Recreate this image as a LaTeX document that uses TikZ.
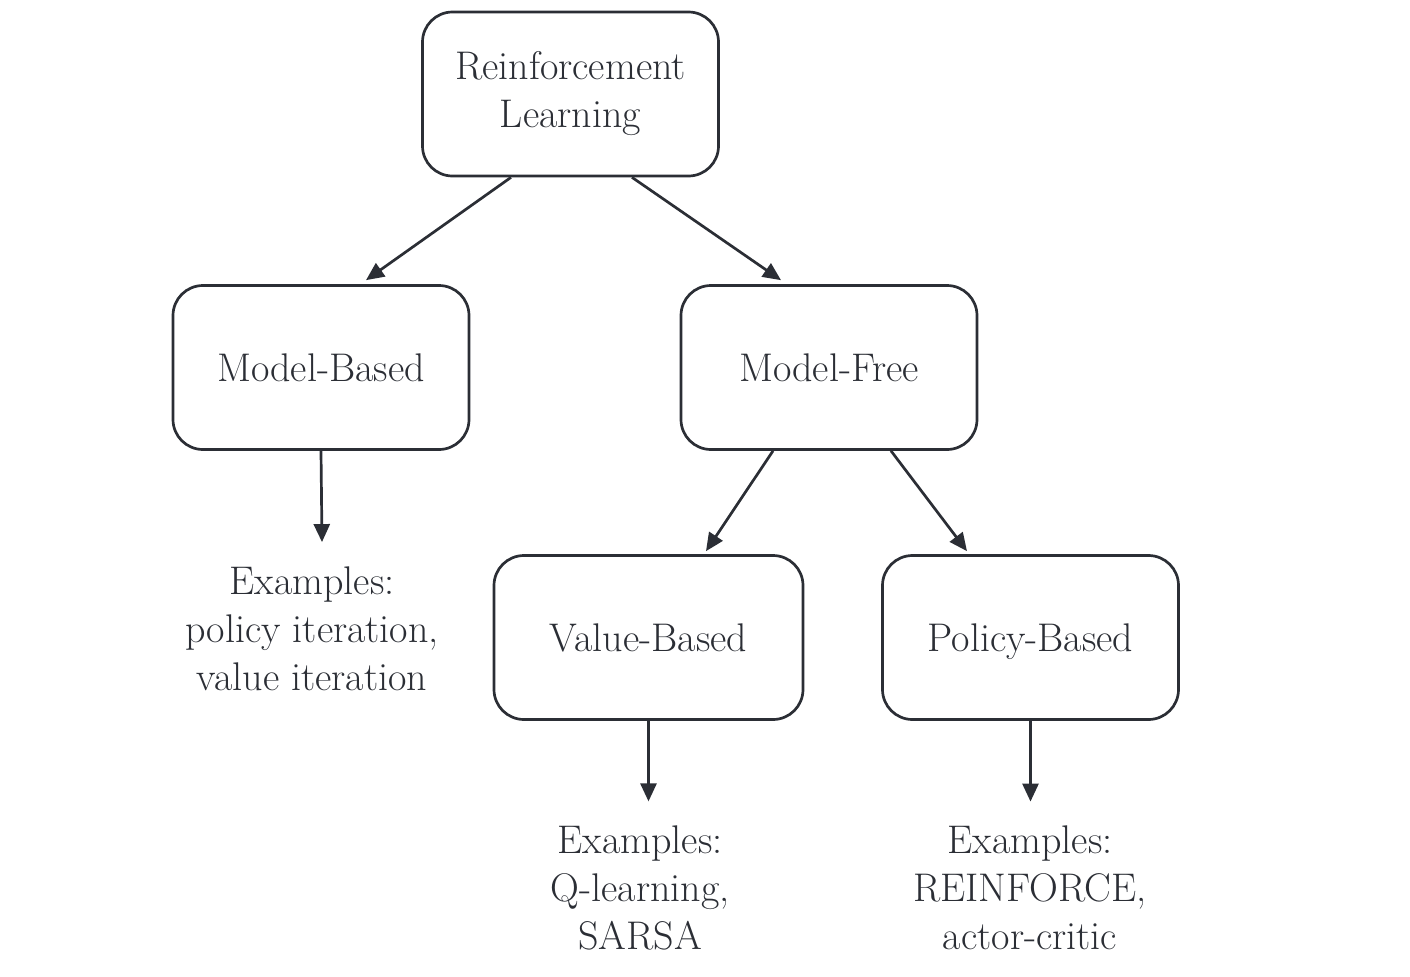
\documentclass[tikz,border=0pt]{standalone}
\usetikzlibrary{arrows.meta,calc}
\definecolor{ink}{HTML}{2B2E35}
\begin{document}
\begin{tikzpicture}[x=0.5pt,y=-0.5pt,
  box/.style={draw=ink,line width=1.35pt,rounded corners=15pt,minimum width=148pt,minimum height=82pt,inner sep=0pt,align=center,text=ink,font=\fontsize{20}{24}\selectfont},
  onebox/.style={box,text height=18pt,text depth=4.5pt},
  extext/.style={inner sep=0pt,align=center,text=ink,font=\fontsize{20}{24}\selectfont},
  arr/.style={draw=ink,line width=1.35pt,-{Triangle[length=9pt,width=8pt]}}]
\useasboundingbox (0,0) rectangle (1410,976);
\node[box] (RL) at (570.5,94) {Reinforcement\\Learning};
\node[onebox] (MB) at (321,367.5) {Model-Based};
\node[onebox] (MF) at (829,367.5) {Model-Free};
\node[onebox,minimum width=154.5pt] (VB) at (648.5,637.5) {Value-Based};
\node[onebox] (PB) at (1030.5,637.5) {Policy-Based};
\node[extext] (exMB) at (312,628.5) {Examples:\\policy iteration,\\value iteration};
\node[extext] (exVB) at (640,888) {Examples:\\Q-learning,\\SARSA};
\node[extext] (exPB) at (1030,888) {Examples:\\REINFORCE,\\actor-critic};
\draw[arr] ([xshift=-29.75pt]RL.south) -- ([xshift=22.5pt,yshift=2pt]MB.north);
\draw[arr] ([xshift=30.75pt]RL.south) -- ([xshift=-24pt,yshift=2pt]MF.north);
\draw[arr] (MB.south) -- ($(MB.south |- exMB.north)+(1,-24)$);
\draw[arr] ([xshift=-28pt]MF.south) -- ([xshift=28.75pt,yshift=1.5pt]VB.north);
\draw[arr] ([xshift=31pt]MF.south) -- ([xshift=-31.75pt,yshift=1.5pt]PB.north);
\draw[arr] (VB.south) -- ($(VB.south |- exVB.north)+(0,-24)$);
\draw[arr] (PB.south) -- ($(PB.south |- exPB.north)+(0,-24)$);
\end{tikzpicture}
\end{document}
